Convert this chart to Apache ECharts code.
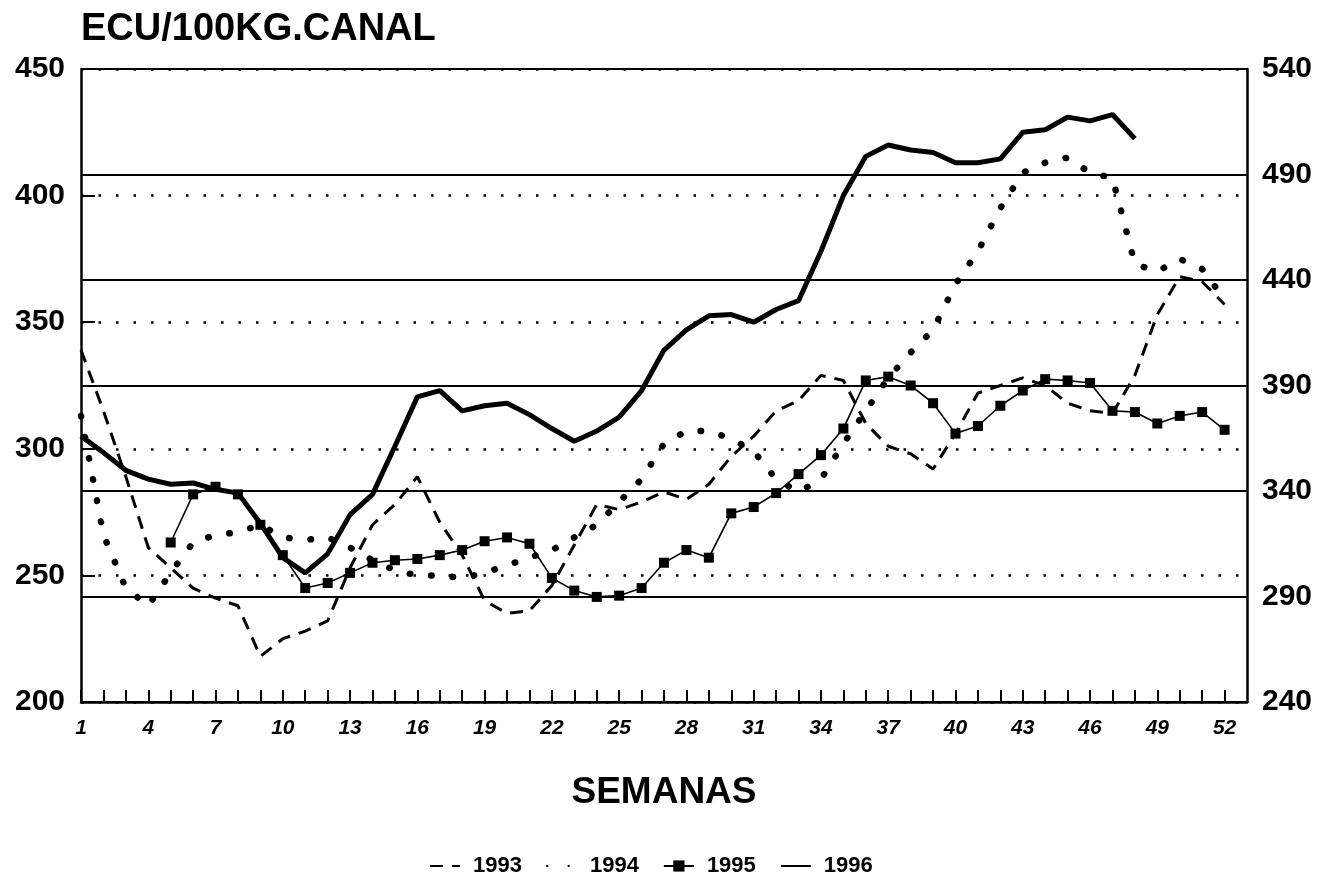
<!DOCTYPE html>
<html>
<head>
<meta charset="utf-8">
<title>ECU/100KG.CANAL</title>
<script src="https://cdn.jsdelivr.net/npm/echarts@6/dist/echarts.min.js"></script>
<style>
  html, body { margin: 0; padding: 0; background: #fff; }
  #main { width: 1337px; height: 880px; }
</style>
</head>
<body>
<div id="main"></div>
<script>
// semanas
var weeks = [1, 2, 3, 4, 5, 6, 7, 8, 9, 10, 11, 12, 13, 14, 15, 16, 17, 18, 19, 20,
  21, 22, 23, 24, 25, 26, 27, 28, 29, 30, 31, 32, 33, 34, 35, 36, 37, 38, 39, 40,
  41, 42, 43, 44, 45, 46, 47, 48, 49, 50, 51, 52];
var weekLabels = [1, 4, 7, 10, 13, 16, 19, 22, 25, 28, 31, 34, 37, 40, 43, 46, 49, 52];
// eje derecho: 240 .. 540
var rightLabels = [240, 290, 340, 390, 440, 490, 540];

var y1993 = [339, 315, 289, 261, 253, 245, 241, 238, 218, 225, 228, 232, 253, 270, 278, 289,
  271, 258, 240, 235, 236, 246, 262, 278, 276, 279, 283, 280, 286, 297, 305, 315,
  319, 329, 327, 310, 301, 298, 292, 306, 322, 325, 328, 325, 318, 315, 314, 329,
  353, 368, 366, 357];
var y1994 = [313, 266, 245, 238, 251, 263, 266, 267, 270, 265, 264, 265, 261, 256, 252, 250,
  250, 249, 251, 254, 257, 260, 265, 270, 279, 288, 302, 307, 307, 304, 299, 288,
  283, 288, 302, 315, 328, 338, 347, 365, 378, 395, 409, 413, 415, 409, 407, 373,
  370, 375, 371, 359];
var y1995 = [null, null, null, null, 263, 282, 285, 282, 270, 258, 245, 247, 251, 255, 256, 256.5,
  258, 260, 263.5, 265, 262.5, 249, 244, 241.5, 242, 245, 255, 260, 257, 274.5, 277, 282.5,
  290, 297.5, 308, 327, 328.5, 325, 318, 306, 309, 317, 323, 327.5, 327, 326, 315, 314.5,
  310, 313, 314.5, 307.5];
var y1996 = [305, 298.5, 291.5, 288, 286, 286.5, 284, 282.5, 270.5, 257, 251, 258.5, 274, 282, 301, 320.5,
  323, 315, 317, 318, 313.5, 308, 303, 307, 312.5, 323, 339, 347, 352.5, 353, 350, 355,
  358.5, 378, 400, 415.5, 420, 418, 417, 413, 413, 414.5, 425, 426, 431, 429.5, 432, 422.5];

function pairs(arr) {
  return weeks.map(function (w, i) {
    var v = arr[i];
    return [w, v == null ? '-' : v];
  });
}

var FONT = '"Liberation Sans", Arial, sans-serif';
// en la leyenda, sin marcador para las series sin símbolo
var noMark = { opacity: 0 };

var chart = echarts.init(document.getElementById('main'));
chart.setOption({
  backgroundColor: '#fff',
  animation: false,
  textStyle: { fontFamily: FONT, color: '#000' },
  title: {
    text: 'ECU/100KG.CANAL',
    left: 76,
    top: 6,
    textStyle: { fontFamily: FONT, fontSize: 38, fontWeight: 'bold', color: '#000' }
  },
  legend: {
    data: [
      { name: '1993', itemStyle: noMark },
      { name: '1994', itemStyle: noMark },
      { name: '1995' },
      { name: '1996', itemStyle: noMark }
    ],
    left: 424,
    top: 850,
    itemWidth: 30,
    itemHeight: 14,
    itemGap: 24,
    textStyle: {
      fontFamily: FONT, fontSize: 22, fontWeight: 'bold', color: '#000',
      padding: [0, 0, 0, 8]
    }
  },
  grid: { left: 81, right: 90, top: 69, bottom: 178 },
  xAxis: {
    type: 'value',
    min: 1,
    max: 53,
    interval: 1,
    name: 'SEMANAS',
    nameLocation: 'middle',
    nameGap: 72,
    nameTextStyle: { fontFamily: FONT, fontSize: 37, fontWeight: 'bold', color: '#000' },
    axisLine: { lineStyle: { color: '#000', width: 2.5 } },
    axisTick: { inside: true, length: 12, lineStyle: { color: '#000', width: 2 } },
    axisLabel: {
      margin: 16,
      fontFamily: FONT,
      fontSize: 21,
      fontStyle: 'italic',
      fontWeight: 'bold',
      color: '#000',
      showMaxLabel: false,
      formatter: function (v) {
        return weekLabels.indexOf(v) >= 0 ? String(v) : '';
      }
    },
    splitLine: { show: false }
  },
  yAxis: [
    {
      type: 'value',
      min: 200,
      max: 450,
      interval: 50,
      position: 'left',
      axisLine: { show: true, lineStyle: { color: '#000', width: 2.5 } },
      axisTick: { show: true, inside: true, length: 14, lineStyle: { color: '#000', width: 2 } },
      axisLabel: { margin: 16, fontFamily: FONT, fontSize: 30, fontWeight: 'bold', color: '#000' },
      splitLine: { show: true, lineStyle: { color: '#000', width: 2.5, type: [2.5, 15] } }
    },
    {
      // escala derecha 240..540, desplazada para que los ticks empiecen en el mínimo
      type: 'value',
      min: 0,
      max: rightLabels[rightLabels.length - 1] - rightLabels[0],
      interval: 50,
      position: 'right',
      axisLine: { show: true, lineStyle: { color: '#000', width: 2.5 } },
      axisTick: { show: false },
      axisLabel: {
        margin: 15, fontFamily: FONT, fontSize: 30, fontWeight: 'bold', color: '#000',
        formatter: function (v) { return String(v + rightLabels[0]); }
      },
      splitLine: { show: true, lineStyle: { color: '#000', width: 2 } }
    }
  ],
  series: [
    {
      name: '1993',
      type: 'line',
      yAxisIndex: 0,
      data: pairs(y1993),
      symbol: 'none',
      z: 3,
      lineStyle: { color: '#000', width: 3, type: [13, 9] },
      itemStyle: { color: '#000' }
    },
    {
      name: '1994',
      type: 'line',
      yAxisIndex: 0,
      data: pairs(y1994),
      symbol: 'none',
      z: 3,
      lineStyle: { color: '#000', width: 6.5, type: [0.5, 21], cap: 'round' },
      itemStyle: { color: '#000' }
    },
    {
      name: '1995',
      type: 'line',
      yAxisIndex: 0,
      data: pairs(y1995),
      symbol: 'rect',
      symbolSize: 10,
      z: 4,
      lineStyle: { color: '#000', width: 1.6 },
      itemStyle: { color: '#000' }
    },
    {
      name: '1996',
      type: 'line',
      yAxisIndex: 0,
      data: pairs(y1996),
      symbol: 'none',
      z: 5,
      lineStyle: { color: '#000', width: 5 },
      itemStyle: { color: '#000' }
    }
  ]
});
</script>
</body>
</html>
